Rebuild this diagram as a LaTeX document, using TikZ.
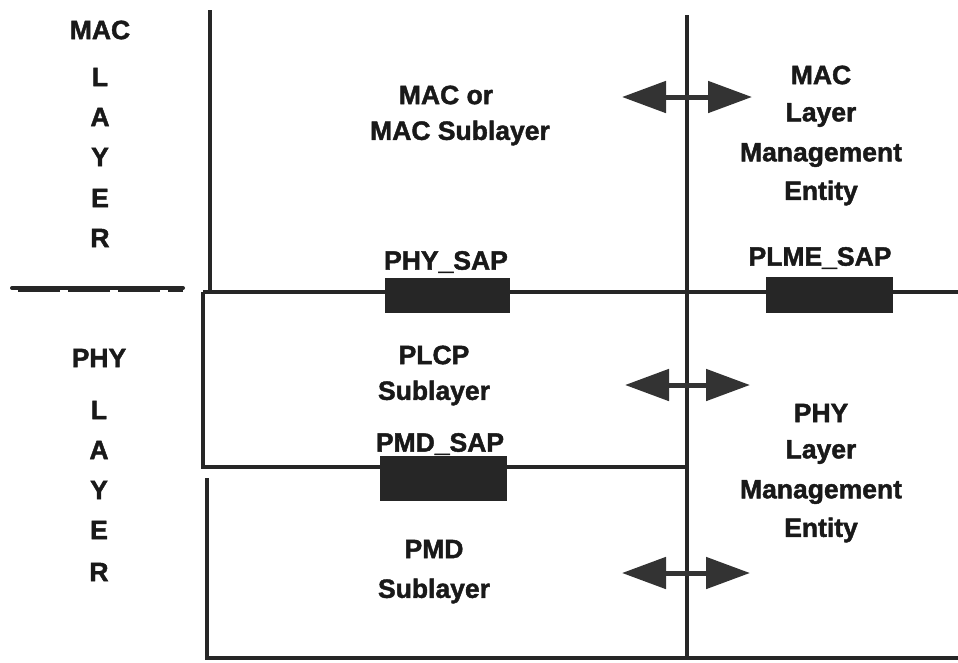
\documentclass[tikz,border=0pt]{standalone}
\usepackage{fontspec}
\setmainfont{Liberation Sans}[BoldFeatures={FakeBold=1.6}]
\usetikzlibrary{arrows.meta}
\begin{document}
\begin{tikzpicture}[x=1pt,y=-1pt,
  ln/.style={line width=3.5pt,black!85},
  lbl/.style={font=\bfseries\fontsize{26.5}{30}\selectfont,text=black!90,inner sep=0pt,anchor=center},
  sapbox/.style={fill=black!85,draw=black!85,line width=1pt},
  dbl/.style={line width=5pt,black!80,{Triangle[length=44pt,width=31pt]}-{Triangle[length=44pt,width=31pt]}}]
\useasboundingbox (0,0) rectangle (958,662);
% frame lines
\coordinate (tl) at (210,10);
\coordinate (tlb) at (210,292);
\draw[ln] (tl) -- (tlb);
\coordinate (rt) at (687,15);
\coordinate (rb) at (687,660);
\draw[ln] (rt) -- (rb);
\coordinate (h1a) at (203,292);
\coordinate (h1b) at (958,292);
\draw[ln] (h1a) -- (h1b);
\coordinate (p1) at (203,292);
\coordinate (p2) at (203,467);
\coordinate (p3) at (687,467);
\draw[ln] (p1) -- (p2) -- (p3);
\coordinate (m1) at (207,478);
\coordinate (m2) at (207,658);
\coordinate (m3) at (958,658);
\draw[ln] (m1) -- (m2) -- (m3);
% dashed separator
\coordinate (d1) at (12,289);
\coordinate (d2) at (183,289);
\draw[line width=4pt,black!85,line cap=round] ([yshift=1pt]d1) -- ([yshift=1pt]d2);
\draw[line width=5pt,black!85,dash pattern=on 42pt off 8pt,dash phase=-6pt] ([yshift=-0.5pt]d1) -- ([yshift=-0.5pt]d2);
% SAP boxes
\node[sapbox,minimum width=124pt,minimum height=34pt,inner sep=0pt] (physap) at (447,295) {};
\node[sapbox,minimum width=126pt,minimum height=35pt,inner sep=0pt] (plmesap) at (829,295) {};
\node[sapbox,minimum width=126pt,minimum height=44pt,inner sep=0pt] (pmdsap) at (443,478) {};
% SAP labels
\node[lbl] (physapl) at (446,262) {PHY\_SAP};
\node[lbl] (plmesapl) at (820,258) {PLME\_SAP};
\node[lbl] (pmdsapl) at (440,444) {PMD\_SAP};
% left labels
\node[lbl] (mac) at (100,30) {MAC};
\node[lbl] (l1) at (100,77) {L};
\node[lbl] (a1) at (100,117) {A};
\node[lbl] (y1) at (100,157) {Y};
\node[lbl] (e1) at (100,198) {E};
\node[lbl] (r1) at (100,238) {R};
\node[lbl] (phy) at (99,358) {PHY};
\node[lbl] (l2) at (99,410) {L};
\node[lbl] (a2) at (99,450) {A};
\node[lbl] (y2) at (99,490) {Y};
\node[lbl] (e2) at (99,530) {E};
\node[lbl] (r2) at (99,572) {R};
% centre labels
\node[lbl] (macor) at (446,95) {MAC or};
\node[lbl] (macsub) at (460,133) {MAC Sublayer};
\node[lbl] (plcp) at (434,355) {PLCP};
\node[lbl] (plcpsub) at (434,393) {Sublayer};
\node[lbl] (pmd) at (434,549) {PMD};
\node[lbl] (pmdsub) at (434,591) {Sublayer};
% right labels
\node[lbl] (rm1) at (821,75) {MAC};
\node[lbl] (rm2) at (821,115) {Layer};
\node[lbl] (rm3) at (821,155) {Management};
\node[lbl] (rm4) at (821,193) {Entity};
\node[lbl] (rp1) at (821,413) {PHY};
\node[lbl] (rp2) at (821,452) {Layer};
\node[lbl] (rp3) at (821,492) {Management};
\node[lbl] (rp4) at (821,530) {Entity};
% arrows
\coordinate (a1l) at (622,97);
\coordinate (a1r) at (752,97);
\draw[dbl] (a1l) -- (a1r);
\coordinate (a2l) at (625,385);
\coordinate (a2r) at (750,385);
\draw[dbl] (a2l) -- (a2r);
\coordinate (a3l) at (622,573);
\coordinate (a3r) at (750,573);
\draw[dbl] (a3l) -- (a3r);
\end{tikzpicture}
\end{document}
